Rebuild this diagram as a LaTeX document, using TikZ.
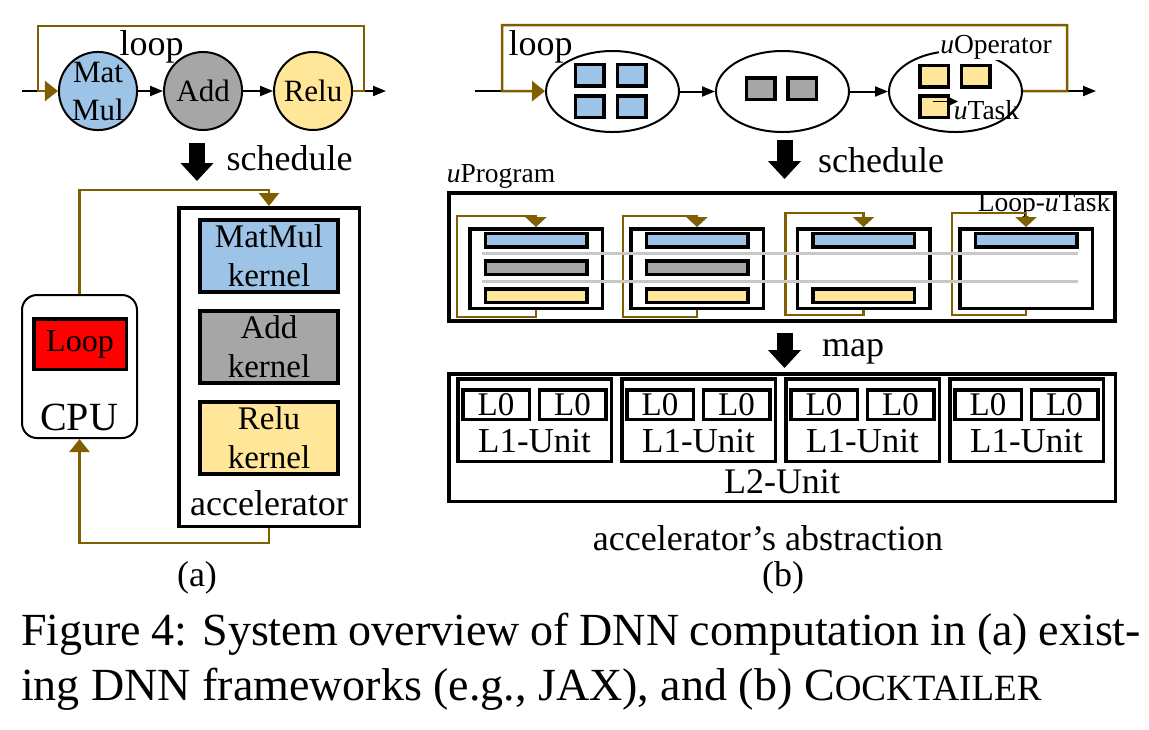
\documentclass[tikz,border=0pt]{standalone}
\usepackage{fontspec}
\setmainfont{Liberation Serif}
\usetikzlibrary{arrows.meta, positioning, shapes.geometric}

\definecolor{mmblue}{HTML}{9DC3E6}
\definecolor{addgray}{HTML}{A6A6A6}
\definecolor{reluyel}{HTML}{FFE699}
\definecolor{loopbrown}{HTML}{7F6000}
\definecolor{lanegray}{HTML}{C8C8C8}

\begin{document}
\begin{tikzpicture}[x=1pt, y=-1pt, line width=2pt,
	flow/.style	= {line width=2pt, -{Triangle[length=13pt, width=10pt]}},
	brownln/.style	= {color=loopbrown, line width=2.5pt, -{Triangle[length=13pt, width=20pt]}},
	taskln/.style	= {color=loopbrown, line width=2.5pt, -{Triangle[length=10pt, width=21pt]}},
	bigdown/.style	= {line width=16pt, -{Triangle[length=18pt, width=32pt]}},
	txt/.style	= {inner sep=0pt, font=\fontsize{36}{40}\selectfont},
	smalltxt/.style	= {inner sep=0pt, font=\fontsize{27.5}{30}\selectfont},
	figcap/.style	= {inner sep=0pt, font=\fontsize{46}{50}\selectfont},
	op/.style	= {circle, draw, line width=2pt, minimum size=78pt, inner sep=0pt, align=center, font=\fontsize{31}{38}\selectfont},
	kernel/.style	= {draw, line width=4pt, minimum width=138pt, minimum height=72pt, inner sep=0pt, align=center, font=\fontsize{33}{39}\selectfont},
	hostbox/.style	= {draw, line width=2pt, rounded corners=15pt, minimum width=115pt, minimum height=143pt},
	devbox/.style	= {draw, line width=3.5pt, minimum width=180.5pt, minimum height=318.5pt},
	hostloop/.style	= {draw, fill=red, line width=3.5pt, minimum width=92.5pt, minimum height=50.5pt, inner sep=0pt, font=\fontsize{32}{36}\selectfont},
	uop/.style	= {ellipse, draw, line width=2pt, minimum width=133pt, minimum height=81pt, inner sep=0pt},
	utask/.style	= {draw, line width=3.5pt, minimum width=28.5pt, minimum height=21.5pt, inner sep=0pt},
	progbox/.style	= {draw, line width=4pt, minimum width=666pt, minimum height=128pt},
	tbox/.style	= {draw, line width=3.5pt, minimum width=132.5pt, minimum height=79.5pt},
	bar/.style	= {draw, line width=3.5pt, minimum width=101.5pt, minimum height=13.5pt, inner sep=0pt},
	lane/.style	= {draw=lanegray, line width=3pt},
	ltwo/.style	= {draw, line width=3.5pt, minimum width=666.5pt, minimum height=127.5pt},
	lone/.style	= {draw, line width=3.5pt, minimum width=153.5pt, minimum height=82.5pt},
	lzero/.style	= {draw, line width=3.5pt, minimum width=66.5pt, minimum height=29.5pt, inner sep=0pt, font=\fontsize{33}{36}\selectfont}]

\path[fill=white, use as bounding box] (0,0) rectangle (1149,729);

% (a) existing frameworks
\node[op, fill=mmblue]		(mm)				at (98,91)	{Mat\\Mul};
\node[op, fill=addgray]		(add)	[right=25pt of mm]			{Add};
\node[op, fill=reluyel]		(relu)	[right=30pt of add]			{Relu};
\node[txt]			(loopa)				at (151.5,46.5)	{loop};

\coordinate (ain)	at (22,91);
\coordinate (al)	at (38,91);
\coordinate (ar)	at (364,91);
\coordinate (aout)	at (386,91);

\draw	(ain) -- (al);
\path	(mm)	edge[flow]	(add);
\path	(add)	edge[flow]	(relu);
\draw[flow]	(ar) -- (aout);
\draw[brownln]	(relu) -- (ar) -- ++(0,-65) -| (al) -- (mm);

\coordinate (sa)	at (197,143);
\coordinate (sb)	at (197,181);
\draw[bigdown]	(sa) -- (sb);
\node[txt]			(scha)				at (289.5,158)	{schedule};

\node[devbox]			(acc)				at (269,367)	{};
\node[kernel, fill=mmblue]	(kmm)				at (269,256)	{MatMul\\kernel};
\node[kernel, fill=addgray]	(kadd)	[below=15pt of kmm]			{Add\\kernel};
\node[kernel, fill=reluyel]	(krelu)	[below=15pt of kadd]			{Relu\\kernel};
\node[txt]			(accl)				at (269,503)	{accelerator};

\node[hostbox]			(cpu)				at (79.5,366.5)	{};
\node[hostloop]			(hloop)				at (80,344)	{Loop};
\node[txt, font=\fontsize{40}{44}\selectfont]	(cpul)		at (79,417.5)	{CPU};

\draw[brownln]	(cpu.north) -- ++(0,-104) -| (acc.north);
\draw[brownln]	(acc.south) -- ++(0,15) -| (cpu.south);

\node[txt]			(capa)				at (197,578)	{(a)};

% (b) Cocktailer
\node[uop]			(e1)				at (612.5,91.5)	{};
\node[uop]			(e2)	[right=35pt of e1]			{};
\node[uop]			(e3)	[right=38pt of e2]			{};

\foreach \x/\y [count=\i] in {589.5/75, 631.5/75, 589.5/106.5, 631.5/106.5}
	\node[utask, fill=mmblue]	(sm\i)	at (\x,\y)	{};
\foreach \x/\y [count=\i] in {760.5/88.5, 802/88.5}
	\node[utask, fill=addgray]	(sa\i)	at (\x,\y)	{};
\foreach \x/\y [count=\i] in {934/76, 975.5/76, 934/106.5}
	\node[utask, fill=reluyel]	(sr\i)	at (\x,\y)	{};

\node[txt]			(loopb)				at (540.5,46.5)	{loop};
\node[smalltxt, fill=white, inner sep=1pt]	(uopl)		at (996,47)	{\textit{u}Operator};
\node[smalltxt]			(utl)				at (986.5,110)	{\textit{u}Task};

\coordinate (bin)	at (475,91);
\coordinate (bl)	at (502,91);
\coordinate (br)	at (1067,91);
\coordinate (bout)	at (1096,91);
\coordinate (ts)	at (933,101.5);
\coordinate (te)	at (958,101.5);

\draw	(bin) -- (bl);
\path	(e1)	edge[flow]	(e2);
\path	(e2)	edge[flow]	(e3);
\draw[flow]	(br) -- (bout);
\draw[brownln]	(e3) -- (br) -- ++(0,-66) -| (bl) -- (e1);
\draw[line width=1.5pt, -{Triangle[length=10pt, width=9pt]}]	(ts) -- (te);

\coordinate (sc)	at (784.5,140);
\coordinate (sd)	at (784.5,179);
\draw[bigdown]	(sc) -- (sd);
\node[txt]			(schb)				at (881,160)	{schedule};

\node[smalltxt]			(upl)				at (501,176)	{\textit{u}Program};
\node[progbox]			(prog)				at (782,257)	{};
\node[smalltxt]			(ltl)				at (1044,205)	{Loop-\textit{u}Task};

\foreach \x [count=\i] in {536, 697, 863.5, 1026}
	\node[tbox]	(t\i)	at (\x,268.5)	{};
\foreach \i in {1,...,4}
	\node[bar, fill=mmblue]		(bm\i)	at (t\i.center |- 0,240)	{};
\foreach \i in {1,2}
	\node[bar, fill=addgray]	(ba\i)	at (t\i.center |- 0,267.5)	{};
\foreach \i in {1,2,3}
	\node[bar, fill=reluyel]	(br\i)	at (t\i.center |- 0,295.5)	{};

\foreach \i/\dx/\up/\dn in {1/11/11/7, 2/6/11/7, 3/10/14/5, 4/6/14/5}
	\draw[taskln]	(t\i.south) -- ++(0,\dn) -| ([xshift=-\dx pt]t\i.west) |- ([yshift=\up pt]t\i.north) -- (t\i.north);

\coordinate (la)	at (482,253.5);
\coordinate (lb)	at (1078,253.5);
\coordinate (lc)	at (482,281.5);
\coordinate (ld)	at (1078,281.5);
\draw[lane]	(la) -- (lb);
\draw[lane]	(lc) -- (ld);

\coordinate (ma)	at (784.5,333);
\coordinate (mb)	at (784.5,368);
\draw[bigdown]	(ma) -- (mb);
\node[txt]			(mapl)				at (853,352)	{map};

\node[ltwo]			(l2)				at (782,437.5)	{};
\node[txt]			(l2l)				at (782,482)	{L2-Unit};
\foreach \x [count=\i] in {534.5, 698.5, 862.5, 1026.5} {
	\node[lone]	(u\i)	at (\x,420)		{};
	\node[lzero]	(za\i)	at (\x-38.5,404.5)	{L0};
	\node[lzero]	(zb\i)	at (\x+38,404.5)	{L0};
	\node[txt, font=\fontsize{35}{38}\selectfont]	(ul\i)	at (\x,441)	{L1-Unit};
}

\node[txt]			(abs)				at (768,538)	{accelerator’s abstraction};
\node[txt]			(capb)				at (783,578)	{(b)};

\node[figcap, anchor=base west]	(cap1)	at (20,645)	{\makebox[1120pt][s]{Figure 4: System overview of DNN computation in (a) exist-}};
\node[figcap, anchor=base west]	(cap2)	at (20,700)	{ing DNN frameworks (e.g., JAX), and (b) C{\fontsize{37}{40}\selectfont OCKTAILER}};

\end{tikzpicture}
\end{document}
